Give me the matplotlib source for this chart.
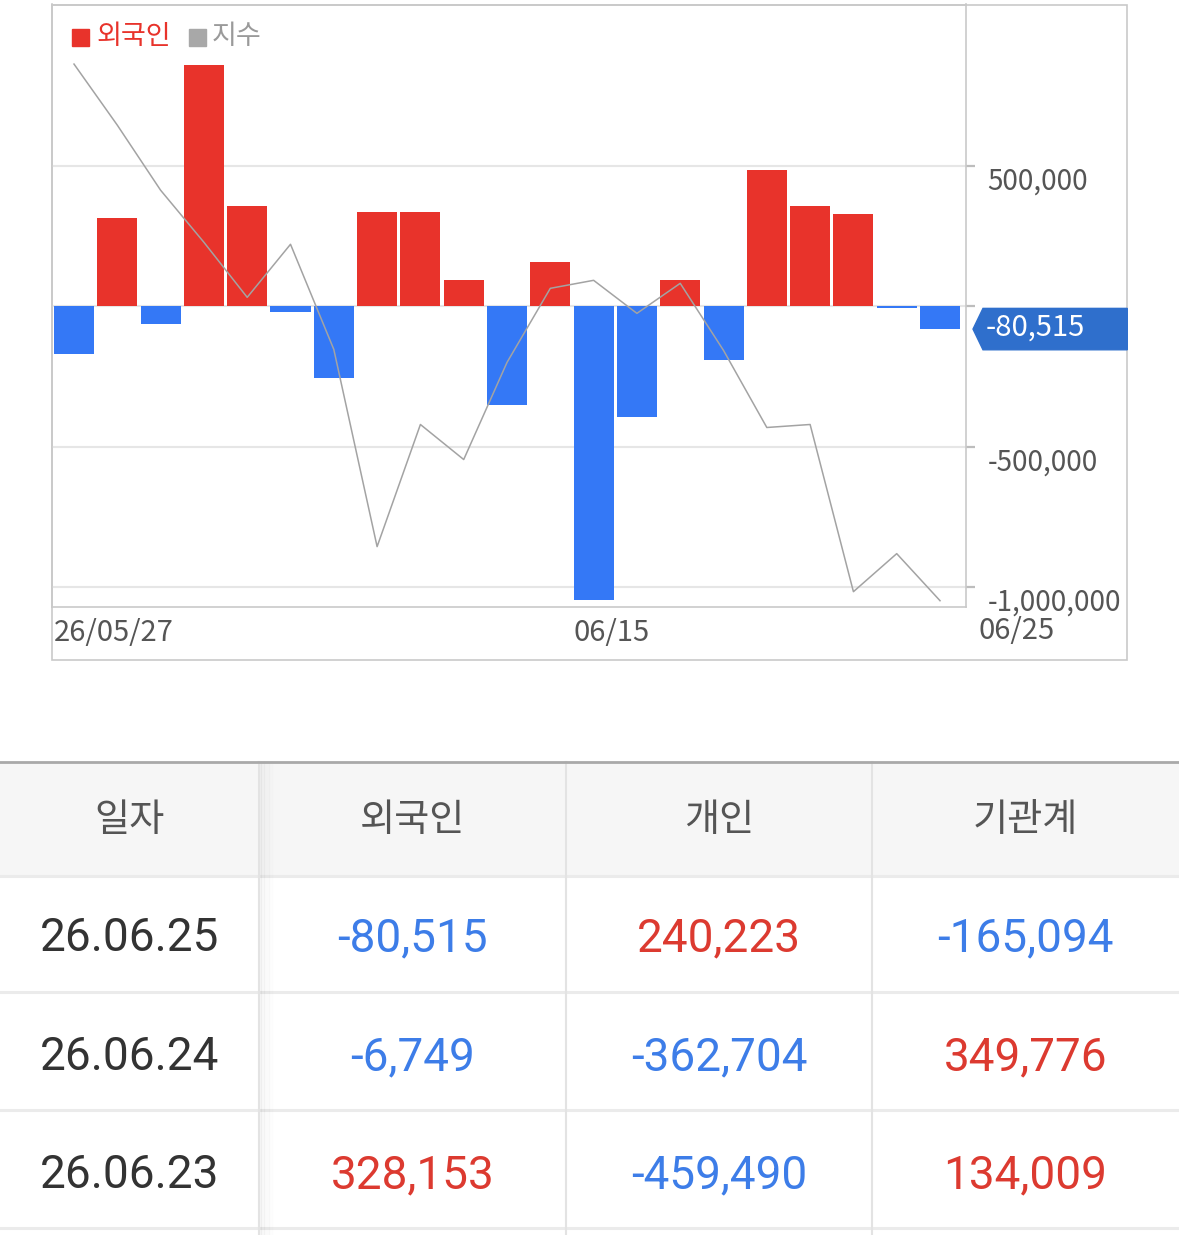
import matplotlib.pyplot as plt
import numpy as np
from matplotlib.patches import Rectangle, Polygon
from matplotlib.transforms import ScaledTranslation

plt.rcParams['font.family'] = ['Noto Sans CJK KR', 'DejaVu Sans']

# ---- data ----
dates = ['26/05/27', '05/28', '05/29', '06/01', '06/02', '06/04', '06/05',
         '06/08', '06/09', '06/10', '06/11', '06/12', '06/15', '06/16',
         '06/17', '06/18', '06/19', '06/22', '06/23', '06/24', '06/25']
foreign = [-169000, 316000, -64000, 862000, 359000, -21000, -256000,
           338000, 338000, 94000, -351000, 158000, -1045000, -394000,
           94000, -192000, 488000, 359000, 328153, -6749, -80515]
index_line = [3000.0, 2969.5, 2937.0, 2911.0, 2883.5, 2910.0, 2857.5,
              2759.0, 2820.0, 2802.5, 2851.0, 2888.0, 2892.0, 2875.5,
              2890.5, 2857.0, 2818.5, 2820.0, 2736.5, 2755.5, 2732.0]
label_idx = [0, 12]
y_ticks = [500000, 0, -500000, -1000000]
y_labels = ['500,000', '', '-500,000', '-1,000,000']

table_head = ['일자', '외국인', '개인', '기관계']
table_dates = ['26.06.25', '26.06.24', '26.06.23']
foreign_net = [-80515, -6749, 328153]
person_net = [240223, -362704, -459490]
inst_net = [-165094, 349776, 134009]

RED = '#e8332b'
BLUE = '#3478f6'
T_RED = '#dc3a30'
T_BLUE = '#3d7de8'

W, H = 1179, 1235
fig = plt.figure(figsize=(W / 100, H / 100), dpi=100)
bg = fig.add_axes([0, 0, 1, 1])
bg.set_xlim(0, W)
bg.set_ylim(H, 0)
bg.axis('off')

# chart frame
bg.add_patch(Rectangle((51.7, 4.5), 1127.3 - 51.7, 660 - 4.5, fill=False,
                       ec='#c9c9c9', lw=1.2))

ax = fig.add_axes([51.7 / W, 1 - 606.7 / H, (966 - 51.7) / W, (606.7 - 4.5) / H])
ax.set_facecolor('none')
x = np.arange(len(foreign))
ax.bar(x, foreign, width=0.924, color=[RED if v >= 0 else BLUE for v in foreign], zorder=2)

# index line on a hidden twin axis
ax2 = ax.twinx()
ax2.plot(x, index_line, color='#a3a3a3', lw=1.1)
ax2.set_ylim(2729, 3029.75)
ax2.set_axis_off()

ax.set_xlim(-0.515, 20.6)
ax.set_ylim(-1.0702e6, 1.0766e6)
ax.yaxis.tick_right()
ax.set_yticks(y_ticks)
ax.set_yticklabels(y_labels)
ax.grid(axis='y', color='#e6e6e6', lw=1.5)
ax.set_axisbelow(True)
for s in ax.spines.values():
    s.set_color('#c9c9c9')
    s.set_linewidth(1.2)
ax.tick_params(axis='y', which='both', left=False, right=True, labelleft=False,
               labelright=True, length=6.5, width=1.6, color='#bdbdbd', pad=9,
               labelsize=20, labelcolor='#555555')
down = ScaledTranslation(0, -0.12, fig.dpi_scale_trans)
for t in ax.yaxis.get_major_ticks():
    t.label2.set_transform(t.label2.get_transform() + down)

ax.set_xticks([i - 0.462 for i in label_idx])
ax.set_xticklabels([dates[i] for i in label_idx], ha='left')
ax.tick_params(axis='x', length=0, pad=8, labelsize=21, labelcolor='#555555')
bg.text(978, 631, dates[-1][-5:], ha='left', va='center', fontsize=21, color='#555555')

# legend
bg.add_patch(Rectangle((72, 28.5), 17, 17, color=RED))
bg.text(96, 36, '외국인', color=RED, fontsize=19.5, va='center', ha='left')
bg.add_patch(Rectangle((189, 28.5), 17, 17, color='#a8a8a8'))
bg.text(212, 36, '지수', color='#9a9a9a', fontsize=19.5, va='center', ha='left')

# last value callout
disp = ax.transData.transform((0, foreign[-1]))
yp = bg.transData.inverted().transform(disp)[1]
bg.add_patch(Polygon([(973, yp), (983, yp - 20.7), (1127.3, yp - 20.7),
                      (1127.3, yp + 20.7), (983, yp + 20.7)], closed=True,
                     color='#2f6fcc', zorder=5))
bg.text(986, yp - 1, f'{foreign[-1]:,}', color='white', fontsize=21,
        va='center', ha='left', zorder=6)

# ---- table ----
col_edges = [0, 259, 566, 872, 1179]
col_cx = [(a + b) / 2 for a, b in zip(col_edges[:-1], col_edges[1:])]
bg.add_patch(Rectangle((0, 762), W, 113, color='#f6f6f6', zorder=1))
bg.plot([0, W], [761.5, 761.5], color='#a9a9a9', lw=2, zorder=3)
for yy in [875.5, 992, 1110, 1228]:
    bg.plot([0, W], [yy, yy], color='#ebebeb', lw=2.2, zorder=2)
for xx in col_edges[1:-1]:
    bg.plot([xx, xx], [762, H], color='#e3e3e3', lw=1.5, zorder=2)
for k in range(1, 10):
    bg.plot([259 + k * 1.6, 259 + k * 1.6], [762, H], color='#000000',
            alpha=0.04 * (10 - k) / 9, lw=1.3, zorder=2)

for cx, h in zip(col_cx, table_head):
    bg.text(cx, 820, h, ha='center', va='center', fontsize=27.5, color='#555555', zorder=4)

row_cy = [938, 1057, 1175.5]
for r, cy in enumerate(row_cy):
    bg.text(col_cx[0], cy, table_dates[r], ha='center', va='center', fontsize=33,
            color='#333333', family='Roboto', zorder=4)
    for c, vals in enumerate([foreign_net, person_net, inst_net]):
        v = vals[r]
        bg.text(col_cx[c + 1], cy, f'{v:,}', ha='center', va='center', fontsize=33,
                color=T_RED if v > 0 else T_BLUE, family='Roboto', zorder=4)

fig.savefig('out.png', dpi=100)
